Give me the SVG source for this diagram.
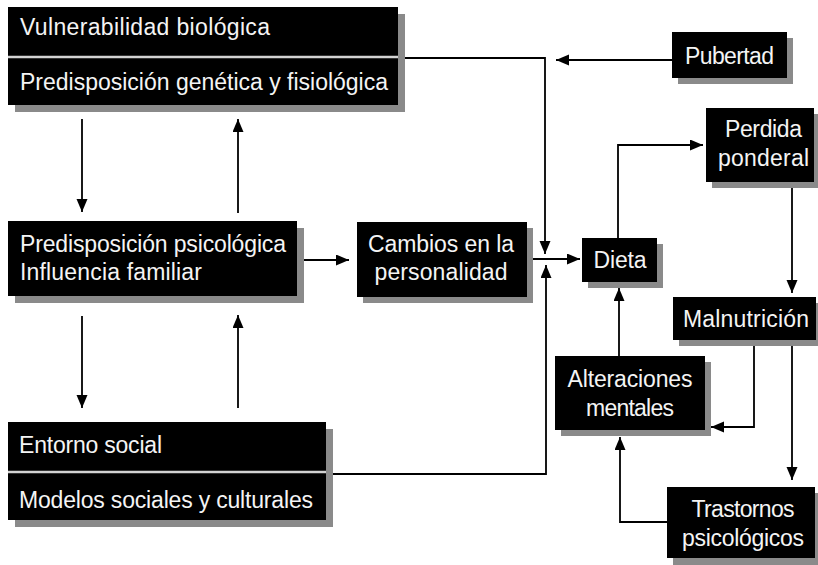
<svg xmlns="http://www.w3.org/2000/svg" width="818" height="565" viewBox="0 0 818 565">
<defs>
<marker id="ah" markerUnits="userSpaceOnUse" markerWidth="14" markerHeight="12" refX="13" refY="5.5" orient="auto">
<path d="M0,0 L13,5.5 L0,11 z" fill="#000"/>
</marker>
<style>
.box{fill:#000}
.sh{fill:#8a8a8a}
.div{stroke:#d2d2d2;stroke-width:2.5}
.t{fill:#f4f4f4;font-family:"Liberation Sans",Arial,sans-serif;font-size:23px}
.c{text-anchor:middle}
.ln{fill:none;stroke:#000;stroke-width:1.8}
.ar{marker-end:url(#ah)}
</style>
</defs>
<rect width="818" height="565" fill="#fff"/>
<g id="connectors">
<path class="ln ar" d="M405,58 H545 V254"/>
<path class="ln ar" d="M672,60 H556"/>
<path class="ln ar" d="M527,259 H580"/>
<path class="ln ar" d="M333,474 H546 V265"/>
<path class="ln ar" d="M304,260 H349"/>
<path class="ln ar" d="M82,119 V212"/>
<path class="ln ar" d="M238,213 V119"/>
<path class="ln ar" d="M82,316 V408"/>
<path class="ln ar" d="M238,408 V315"/>
<path class="ln ar" d="M618,238 V145 H703"/>
<path class="ln ar" d="M792,182 V293"/>
<path class="ln ar" d="M754,340 V427 H711"/>
<path class="ln ar" d="M792,340 V480"/>
<path class="ln ar" d="M667,522 H620 V437"/>
<path class="ln ar" d="M619,356 V288"/>
</g>
<g id="vulnerabilidad">
<rect class="sh" x="15" y="14" width="390" height="98"/>
<rect class="box" x="8" y="7" width="390" height="98"/>
<line class="div" x1="8" y1="57" x2="398" y2="57"/>
<text class="t" x="20" y="35" textLength="250" lengthAdjust="spacing">Vulnerabilidad biológica</text>
<text class="t" x="20" y="90" textLength="368" lengthAdjust="spacing">Predisposición genética y fisiológica</text>
</g>
<g id="pubertad">
<rect class="sh" x="678" y="38" width="115" height="46"/>
<rect class="box" x="672" y="32" width="115" height="46"/>
<text class="t c" x="729.5" y="64" textLength="89" lengthAdjust="spacing">Pubertad</text>
</g>
<g id="perdida">
<rect class="sh" x="712" y="114" width="108" height="74"/>
<rect class="box" x="706" y="108" width="108" height="74"/>
<text class="t c" x="763.5" y="137" textLength="77" lengthAdjust="spacing">Perdida</text>
<text class="t c" x="763.5" y="166" textLength="91" lengthAdjust="spacing">ponderal</text>
</g>
<g id="predisposicion">
<rect class="sh" x="15" y="228" width="289" height="75"/>
<rect class="box" x="8" y="221" width="289" height="75"/>
<text class="t" x="20" y="252" textLength="266" lengthAdjust="spacing">Predisposición psicológica</text>
<text class="t" x="20" y="280" textLength="182" lengthAdjust="spacing">Influencia familiar</text>
</g>
<g id="cambios">
<rect class="sh" x="363" y="228" width="170" height="75"/>
<rect class="box" x="357" y="222" width="170" height="75"/>
<text class="t c" x="441" y="252" textLength="146" lengthAdjust="spacing">Cambios en la</text>
<text class="t c" x="441" y="280" textLength="133" lengthAdjust="spacing">personalidad</text>
</g>
<g id="dieta">
<rect class="sh" x="588" y="244" width="75" height="44"/>
<rect class="box" x="582" y="238" width="75" height="44"/>
<text class="t c" x="620" y="268" textLength="53" lengthAdjust="spacing">Dieta</text>
</g>
<g id="malnutricion">
<rect class="sh" x="679" y="303" width="143" height="43"/>
<rect class="box" x="673" y="297" width="143" height="43"/>
<text class="t c" x="746" y="327" textLength="126" lengthAdjust="spacing">Malnutrición</text>
</g>
<g id="alteraciones">
<rect class="sh" x="561" y="362" width="150" height="74"/>
<rect class="box" x="555" y="356" width="150" height="74"/>
<text class="t c" x="630" y="387" textLength="125" lengthAdjust="spacing">Alteraciones</text>
<text class="t c" x="630" y="416" textLength="88" lengthAdjust="spacing">mentales</text>
</g>
<g id="trastornos">
<rect class="sh" x="673" y="493" width="148" height="72"/>
<rect class="box" x="667" y="487" width="148" height="71"/>
<text class="t c" x="743" y="517" textLength="103" lengthAdjust="spacing">Trastornos</text>
<text class="t c" x="743" y="546" textLength="122" lengthAdjust="spacing">psicológicos</text>
</g>
<g id="entorno">
<rect class="sh" x="15" y="429" width="318" height="98"/>
<rect class="box" x="8" y="422" width="318" height="98"/>
<line class="div" x1="8" y1="472" x2="326" y2="472"/>
<text class="t" x="19" y="453" textLength="143" lengthAdjust="spacing">Entorno social</text>
<text class="t" x="19" y="508" textLength="294" lengthAdjust="spacing">Modelos sociales y culturales</text>
</g>
</svg>
